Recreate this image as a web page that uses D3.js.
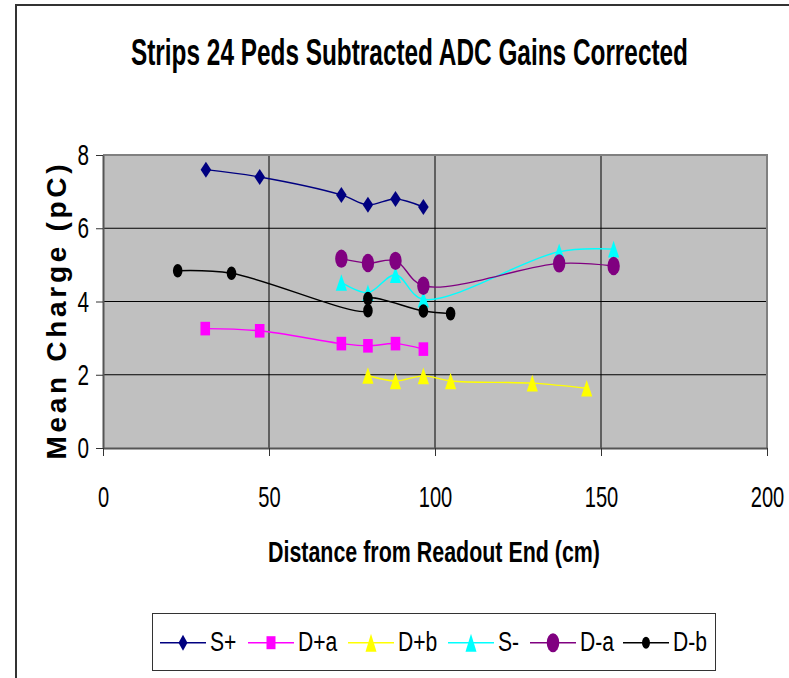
<!DOCTYPE html>
<html>
<head>
<meta charset="utf-8">
<script src="https://cdn.jsdelivr.net/npm/d3@7"></script>
<style>
  html, body { margin: 0; padding: 0; background: #fff; }
  svg { display: block; }
  text { font-family: "Liberation Sans", Arial, sans-serif; fill: #000; }
</style>
</head>
<body>
<svg id="chart" width="789" height="678"></svg>
<script>
// Distances along the strip (cm) and mean charges (pC) for each readout channel
const sPlusX   = [31.0, 47.2, 71.8, 79.8, 88.1, 96.5];
const sPlusY   = [7.60, 7.40, 6.91, 6.64, 6.80, 6.58];
const dPlusAX  = [30.8, 47.2, 71.8, 79.8, 88.1, 96.5];
const dPlusAY  = [3.26, 3.20, 2.85, 2.79, 2.85, 2.70];
const dPlusBX  = [79.8, 88.1, 96.5, 104.7, 129.3, 145.7];
const dPlusBY  = [1.98, 1.83, 1.97, 1.83, 1.77, 1.63];
const sMinusX  = [71.8, 79.8, 88.1, 96.5, 137.4, 153.8];
const sMinusY  = [4.52, 4.24, 4.73, 4.06, 5.36, 5.43];
const dMinusAX = [71.8, 79.8, 88.1, 96.5, 137.4, 153.8];
const dMinusAY = [5.17, 5.05, 5.11, 4.43, 5.04, 4.97];
const dMinusBX = [22.5, 38.7, 79.8, 79.8, 96.5, 104.7];
const dMinusBY = [4.84, 4.77, 3.75, 4.08, 3.74, 3.67];

const seriesNames = ["S+", "D+a", "D+b", "S-", "D-a", "D-b"];
const xTicks = [0, 50, 100, 150, 200];
const yTicks = [0, 2, 4, 6, 8];

const chartTitle = "Strips 24 Peds Subtracted ADC Gains Corrected";
const xTitle = "Distance from Readout End (cm)";
const yTitle = "Mean Charge (pC)";

const series = [
  { name: seriesNames[0], xs: sPlusX,   ys: sPlusY,   color: "#000080", shape: "diamond" },
  { name: seriesNames[1], xs: dPlusAX,  ys: dPlusAY,  color: "#FF00FF", shape: "square" },
  { name: seriesNames[2], xs: dPlusBX,  ys: dPlusBY,  color: "#FFFF00", shape: "triangle" },
  { name: seriesNames[3], xs: sMinusX,  ys: sMinusY,  color: "#00FFFF", shape: "triangle" },
  { name: seriesNames[4], xs: dMinusAX, ys: dMinusAY, color: "#800080", shape: "bigcircle" },
  { name: seriesNames[5], xs: dMinusBX, ys: dMinusBY, color: "#000000", shape: "smallcircle" }
];

const svg = d3.select("#chart");
const FONT = '"Liberation Sans", Arial, sans-serif';

// squeeze text horizontally to a fraction of its natural width
function condense(sel, f) {
  sel.each(function () {
    const len = this.getComputedTextLength();
    d3.select(this).attr("textLength", len * f).attr("lengthAdjust", "spacingAndGlyphs");
  });
}

// outer chart frame
svg.append("rect")
  .attr("x", 16).attr("y", 5).attr("width", 800).attr("height", 700)
  .attr("fill", "#fff").attr("stroke", "#333").attr("stroke-width", 2);

const plot = { left: 103, right: 767, top: 155, bottom: 448 };
const x = d3.scaleLinear().domain([0, 200]).range([plot.left, plot.right]);
const y = d3.scaleLinear().domain([0, 8]).range([plot.bottom, plot.top]);

// plot area background
svg.append("rect")
  .attr("x", plot.left).attr("y", plot.top)
  .attr("width", plot.right - plot.left).attr("height", plot.bottom - plot.top)
  .attr("fill", "#C0C0C0");

// gridlines
const grid = svg.append("g");
grid.selectAll("line.h").data(yTicks.filter(v => v > 0 && v < 8)).join("line")
  .attr("x1", plot.left).attr("x2", plot.right)
  .attr("y1", d => y(d)).attr("y2", d => y(d))
  .attr("stroke", "#000").attr("stroke-width", 1);
grid.selectAll("line.v").data(xTicks.filter(v => v > 0 && v < 200)).join("line")
  .attr("y1", plot.top).attr("y2", plot.bottom)
  .attr("x1", d => x(d)).attr("x2", d => x(d))
  .attr("stroke", "#000").attr("stroke-width", 1);

// plot border (top and right)
svg.append("path")
  .attr("d", `M${plot.left},${plot.top}H${plot.right}V${plot.bottom}`)
  .attr("fill", "none").attr("stroke", "#808080").attr("stroke-width", 2);

// axes
const yAxis = svg.append("g").attr("transform", `translate(${plot.left},0)`)
  .call(d3.axisLeft(y).tickValues(yTicks).tickSize(7).tickPadding(7).tickSizeOuter(0));
const xAxis = svg.append("g").attr("transform", `translate(0,${plot.bottom})`)
  .call(d3.axisBottom(x).tickValues(xTicks).tickSize(8).tickPadding(30).tickSizeOuter(0));
[yAxis, xAxis].forEach(ax => {
  ax.select(".domain").attr("stroke", "#555").attr("stroke-width", 2);
  ax.selectAll(".tick line").attr("stroke", "#333").attr("stroke-width", 1);
  ax.selectAll(".tick text").attr("font-family", FONT).attr("font-size", 30).attr("fill", "#000");
});
condense(yAxis.selectAll(".tick text"), 0.69);
condense(xAxis.selectAll(".tick text"), 0.67);

// marker shapes
function ellipse(rx, ry) {
  return `M${-rx},0A${rx},${ry} 0 1,0 ${rx},0A${rx},${ry} 0 1,0 ${-rx},0Z`;
}
const markerShapes = {
  diamond: "M0,-8L5.3,0L0,8L-5.3,0Z",
  square: "M-4.8,-6.8H4.8V6.8H-4.8Z",
  triangle: "M0,-8.3L5.6,8.3L-5.6,8.3Z",
  bigcircle: ellipse(6.2, 9.2),
  smallcircle: ellipse(4.8, 6.8)
};

const line = d3.line().x(d => x(d[0])).y(d => y(d[1])).curve(d3.curveCatmullRom.alpha(0.5));

series.forEach(s => {
  const pts = s.xs.map((v, i) => [v, s.ys[i]]);
  const g = svg.append("g");
  g.append("path").attr("d", line(pts))
    .attr("fill", "none").attr("stroke", s.color).attr("stroke-width", 1.4);
  g.selectAll("path.m").data(pts).join("path")
    .attr("class", "m")
    .attr("d", markerShapes[s.shape])
    .attr("transform", d => `translate(${x(d[0])},${y(d[1])})`)
    .attr("fill", s.color);
});

// chart title
svg.append("text")
  .attr("x", 409.5).attr("y", 65).attr("text-anchor", "middle")
  .attr("font-size", 36).attr("font-weight", "bold")
  .attr("textLength", 557).attr("lengthAdjust", "spacingAndGlyphs")
  .text(chartTitle);

// x-axis title
svg.append("text")
  .attr("x", 434).attr("y", 562).attr("text-anchor", "middle")
  .attr("font-size", 29).attr("font-weight", "bold")
  .attr("textLength", 332).attr("lengthAdjust", "spacingAndGlyphs")
  .text(xTitle);

// y-axis title
svg.append("text")
  .attr("transform", "translate(66,312) rotate(-90)")
  .attr("text-anchor", "middle")
  .attr("font-size", 28).attr("font-weight", "bold")
  .attr("textLength", 295).attr("lengthAdjust", "spacing")
  .text(yTitle);

// legend
const legend = svg.append("g");
legend.append("rect")
  .attr("x", 152.5).attr("y", 613.5).attr("width", 563).attr("height", 57)
  .attr("fill", "#fff").attr("stroke", "#333").attr("stroke-width", 1);
const legendX = [160, 248, 348, 448, 530, 623];
const legendShapes = {
  diamond: "M0,-8L4.5,0L0,8L-4.5,0Z",
  square: "M-4.5,-6.5H4.5V6.5H-4.5Z",
  triangle: "M0,-9L5.5,9L-5.5,9Z",
  bigcircle: ellipse(6.3, 9.5),
  smallcircle: ellipse(4, 6)
};
series.forEach((s, i) => {
  const lx = legendX[i], cy = 642.7;
  const g = legend.append("g");
  g.append("line").attr("x1", lx).attr("x2", lx + 46).attr("y1", cy).attr("y2", cy)
    .attr("stroke", s.color).attr("stroke-width", 1.5);
  g.append("path").attr("d", legendShapes[s.shape])
    .attr("transform", `translate(${lx + 23},${cy})`).attr("fill", s.color);
  const t = g.append("text").attr("x", lx + 50).attr("y", 651)
    .attr("font-size", 27).text(s.name);
  condense(t, 0.78);
});
</script>
</body>
</html>
